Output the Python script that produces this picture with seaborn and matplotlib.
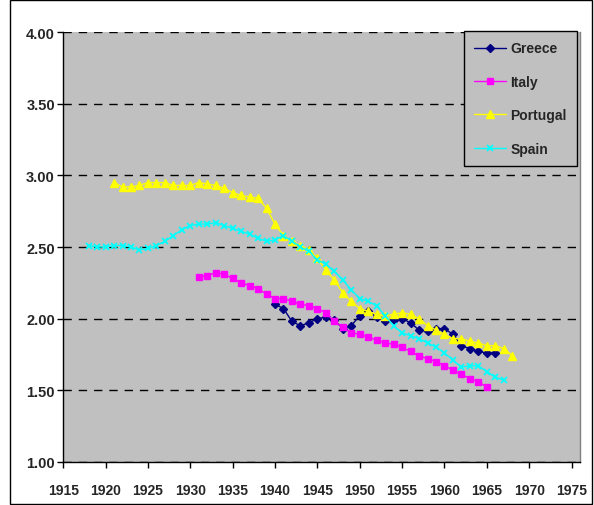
import matplotlib
matplotlib.use("Agg")
import matplotlib.pyplot as plt
from matplotlib.patches import Rectangle
import seaborn as sns
import pandas as pd

# ---- data ----
greece_years = list(range(1940, 1967))
greece = [2.10, 2.07, 1.98, 1.95, 1.97, 2.00, 2.01, 1.99, 1.93, 1.95,
          2.02, 2.05, 2.01, 1.98, 1.99, 2.00, 1.97, 1.92, 1.91, 1.93,
          1.93, 1.89, 1.81, 1.79, 1.77, 1.76, 1.76]

italy_years = list(range(1931, 1966))
italy = [2.29, 2.30, 2.32, 2.31, 2.28, 2.25, 2.23, 2.21, 2.17, 2.14,
         2.14, 2.12, 2.10, 2.09, 2.07, 2.04, 1.98, 1.94, 1.90, 1.89,
         1.87, 1.85, 1.83, 1.82, 1.80, 1.77, 1.74, 1.72, 1.70, 1.67,
         1.64, 1.61, 1.58, 1.56, 1.52]

portugal_years = list(range(1921, 1969))
portugal = [2.95, 2.92, 2.92, 2.93, 2.95, 2.95, 2.95, 2.93, 2.93, 2.93,
            2.95, 2.94, 2.93, 2.91, 2.88, 2.86, 2.85, 2.84, 2.77, 2.66,
            2.58, 2.54, 2.51, 2.48, 2.42, 2.34, 2.27, 2.18, 2.12, 2.07,
            2.05, 2.03, 2.02, 2.03, 2.04, 2.03, 2.00, 1.95, 1.92, 1.89,
            1.86, 1.86, 1.84, 1.83, 1.81, 1.81, 1.79, 1.74]

spain_years = list(range(1918, 1968))
spain = [2.51, 2.50, 2.50, 2.51, 2.51, 2.50, 2.48, 2.49, 2.51, 2.54,
         2.58, 2.62, 2.65, 2.66, 2.66, 2.67, 2.65, 2.63, 2.61, 2.59,
         2.56, 2.54, 2.55, 2.58, 2.54, 2.50, 2.47, 2.41, 2.38, 2.33,
         2.27, 2.20, 2.14, 2.12, 2.09, 2.02, 1.95, 1.90, 1.88, 1.86,
         1.83, 1.80, 1.76, 1.71, 1.66, 1.67, 1.67, 1.63, 1.59, 1.57]

x_ticks = [1915, 1920, 1925, 1930, 1935, 1940, 1945, 1950, 1955, 1960, 1965, 1970, 1975]
y_ticks = [1.00, 1.50, 2.00, 2.50, 3.00, 3.50, 4.00]

# ---- style ----
sns.set_style("white")
plt.rcParams["font.family"] = ["Liberation Sans", "DejaVu Sans"]
plt.rcParams["font.weight"] = "bold"

fig = plt.figure(figsize=(5.94, 5.06), dpi=100)
fig.patch.set_facecolor("white")
ax = fig.add_axes([63.2 / 594, 43.3 / 506, (580 - 63.2) / 594, (462.7 - 33.3) / 506])
ax.set_facecolor("#C0C0C0")

series = [
    ("Greece", greece_years, greece, "#000080", "D", 4.5, 1.0),
    ("Italy", italy_years, italy, "#FF00FF", "s", 5.0, 1.0),
    ("Portugal", portugal_years, portugal, "#FFFF00", "^", 5.5, 1.0),
    ("Spain", spain_years, spain, "#00FFFF", "x", 5.0, 1.3),
]
for name, yrs, vals, col, mk, ms, mew in series:
    df = pd.DataFrame({"year": yrs, "value": vals})
    sns.lineplot(data=df, x="year", y="value", ax=ax, color=col, marker=mk,
                 markersize=ms, markeredgecolor=col, markerfacecolor=col,
                 markeredgewidth=mew, linewidth=1.0, label=name)

ax.set_xlim(1915, 1976)
ax.set_ylim(1.0, 4.0)
ax.set_xticks(x_ticks)
ax.set_yticks(y_ticks)
ax.set_xticklabels([str(t) for t in x_ticks], fontsize=10, fontweight="bold")
ax.set_yticklabels([f"{t:.2f}" for t in y_ticks], fontsize=10.5, fontweight="bold")
ax.set_xlabel("")
ax.set_ylabel("")

ax.yaxis.grid(True, color="black", linestyle=(0, (6, 5)), linewidth=1.0)
ax.xaxis.grid(False)
ax.set_axisbelow(True)

ax.tick_params(axis="both", direction="out", length=4, width=1, color="black",
               bottom=True, left=True)
ax.tick_params(axis="y", pad=2)
ax.tick_params(axis="x", pad=11)
for side in ["left", "bottom"]:
    ax.spines[side].set_color("black")
    ax.spines[side].set_linewidth(1.0)
ax.spines["top"].set_visible(False)
ax.spines["right"].set_color("#808080")
ax.spines["right"].set_linewidth(1.0)

leg = ax.legend(loc="upper right", bbox_to_anchor=(0.994, 1.003), frameon=True,
                fancybox=False, edgecolor="black", facecolor="#C0C0C0", framealpha=1,
                borderaxespad=0, labelspacing=1.4, handlelength=2.3,
                handletextpad=0.3, borderpad=0.75,
                prop={"size": 10, "weight": "bold"})
leg.get_frame().set_linewidth(1.0)

fig.patches.append(Rectangle((10 / 594, 1 / 506), (592 - 10) / 594, (505 - 1) / 506,
                             transform=fig.transFigure, fill=False,
                             edgecolor="black", linewidth=1.0))

fig.savefig("out.png", dpi=100)
